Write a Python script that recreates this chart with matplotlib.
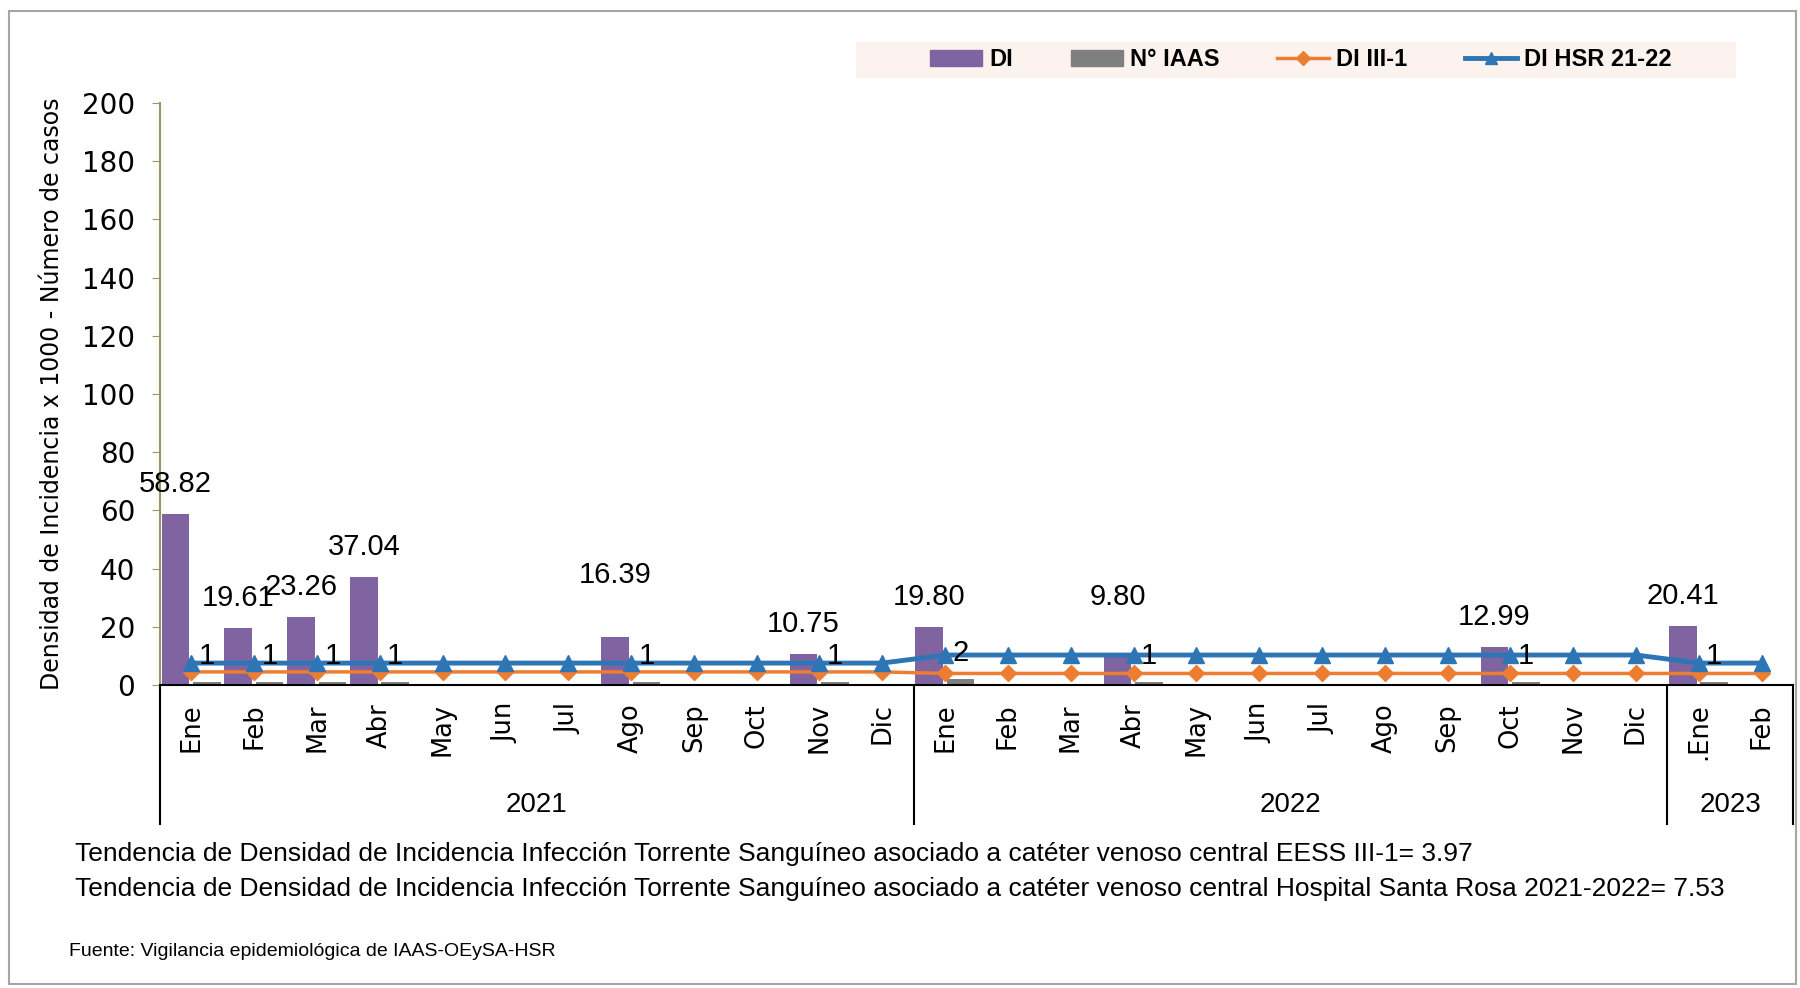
import numpy as np
import matplotlib.pyplot as plt
from matplotlib.patches import Rectangle
from matplotlib.lines import Line2D
from matplotlib.patches import Patch

# Data

months = ["Ene", "Feb", "Mar", "Abr", "May", "Jun", "Jul", "Ago", "Sep", "Oct", "Nov", "Dic",
          "Ene", "Feb", "Mar", "Abr", "May", "Jun", "Jul", "Ago", "Sep", "Oct", "Nov", "Dic",
          ".Ene", "Feb"]
years = ["2021", "2022", "2023"]
months_per_year = [12, 12, 2]

di = [58.82, 19.61, 23.26, 37.04, 0, 0, 0, 16.39, 0, 0, 10.75, 0,
      19.80, 0, 0, 9.80, 0, 0, 0, 0, 0, 12.99, 0, 0,
      20.41, 0]
n_iaas = [1, 1, 1, 1, 0, 0, 0, 1, 0, 0, 1, 0,
          2, 0, 0, 1, 0, 0, 0, 0, 0, 1, 0, 0,
          1, 0]
di_iii1 = [4.5] * 12 + [3.97] * 14
di_hsr = [7.53] * 12 + [10.3] * 12 + [7.53] * 2

notes = [
    "Tendencia de Densidad de Incidencia Infección Torrente Sanguíneo asociado a catéter venoso central EESS III-1= 3.97",
    "Tendencia de Densidad de Incidencia Infección Torrente Sanguíneo asociado a catéter venoso central Hospital Santa Rosa 2021-2022= 7.53",
]
source = "Fuente: Vigilancia epidemiológica de IAAS-OEySA-HSR"

# Styling

c_di = "#8064A2"
c_iaas = "#7F7F7F"
c_iii = "#ED7D31"
c_hsr = "#2E75B6"
narrow = ["Liberation Sans Narrow", "Liberation Sans", "DejaVu Sans"]

W, H = 1800, 988
fig = plt.figure(figsize=(W / 100, H / 100), dpi=100)

# axes placed in pixel terms
left, right, top, bottom = 160, 1793, 103, 685
ax = fig.add_axes([left / W, 1 - bottom / H, (right - left) / W, (bottom - top) / H])

x = np.arange(len(months)) + 0.5
bw = 0.44
ax.bar(x - 0.254, di, width=bw, color=c_di, zorder=2)
ax.bar(x + 0.246, n_iaas, width=bw, color=c_iaas, zorder=2)
ax.plot(x, di_iii1, color=c_iii, lw=2.5, marker="D", ms=8, zorder=3)
ax.plot(x, di_hsr, color=c_hsr, lw=3.5, marker="^", ms=12, zorder=4)

# data labels (two labels were nudged up in the original)
lift = {7: 23, 15: 21}
for i, v in enumerate(di):
    if v > 0:
        ax.annotate(f"{v:.2f}", (x[i] - 0.254, v), xytext=(0, 21.6 + lift.get(i, 0)),
                    textcoords="offset points", ha="center", va="center",
                    fontsize=21, family=narrow, zorder=5)
for i, v in enumerate(n_iaas):
    if v > 0:
        ax.annotate(f"{v}", (x[i] + 0.246, v), xytext=(0, 19),
                    textcoords="offset points", ha="center", va="center",
                    fontsize=21, family=narrow, zorder=5)

ax.set_xlim(0, len(months))
ax.set_ylim(0, 200)
ax.set_yticks(np.arange(0, 201, 20))
ax.tick_params(axis="y", labelsize=20, length=6, color="#9C9566", pad=12)
ax.set_xticks(x)
ax.set_xticklabels(months, rotation=90, va="top", ha="center", fontsize=18.5)
ax.tick_params(axis="x", length=0, pad=13)

for s in ["top", "right"]:
    ax.spines[s].set_visible(False)
ax.spines["left"].set_color("#9C9566")
ax.spines["left"].set_linewidth(1.5)
ax.spines["bottom"].set_color("black")
ax.spines["bottom"].set_linewidth(1.5)

# year group separators and labels
trans = ax.get_xaxis_transform()
edges = np.concatenate([[0], np.cumsum(months_per_year)])
for e in edges:
    ax.plot([e, e], [0, -0.239], color="black", lw=1.5, transform=trans, clip_on=False)
for yr, a, b in zip(years, edges[:-1], edges[1:]):
    ax.text((a + b) / 2, -0.206, yr, transform=trans, ha="center", va="center",
            fontsize=20, family=narrow)

fig.text(52 / W, 1 - 394 / H, "Densidad de Incidencia x 1000 - Número de casos",
         rotation=90, ha="center", va="center", fontsize=17)

# legend
fig.patches.append(Rectangle((856 / W, 1 - 78 / H), 880 / W, 36 / H,
                             transform=fig.transFigure, facecolor="#FDF3EE",
                             edgecolor="none", zorder=0))
handles = [Patch(color=c_di), Patch(color=c_iaas),
           Line2D([], [], color=c_iii, lw=2.5, marker="D", ms=7),
           Line2D([], [], color=c_hsr, lw=3.5, marker="^", ms=9)]
fig.legend(handles, ["DI", "N° IAAS", "DI III-1", "DI HSR 21-22"], ncol=4,
           loc="center", bbox_to_anchor=(1301 / W, 1 - 60 / H), frameon=False,
           prop={"family": narrow, "weight": "bold", "size": 17},
           handlelength=2.2, handletextpad=0.3, columnspacing=2.45)

# notes
fig.text(75 / W, 1 - 854 / H, notes[0], ha="left", va="center", fontsize=19, family=narrow)
fig.text(75 / W, 1 - 889 / H, notes[1], ha="left", va="center", fontsize=19, family=narrow)
fig.text(69 / W, 1 - 951 / H, source, ha="left", va="center", fontsize=14, family=narrow)

# outer border
fig.patches.append(Rectangle((9 / W, 1 - 984 / H), 1787 / W, 973 / H,
                             transform=fig.transFigure, facecolor="none",
                             edgecolor="#A6A6A6", lw=1.5))

fig.savefig("out.png", dpi=100)
